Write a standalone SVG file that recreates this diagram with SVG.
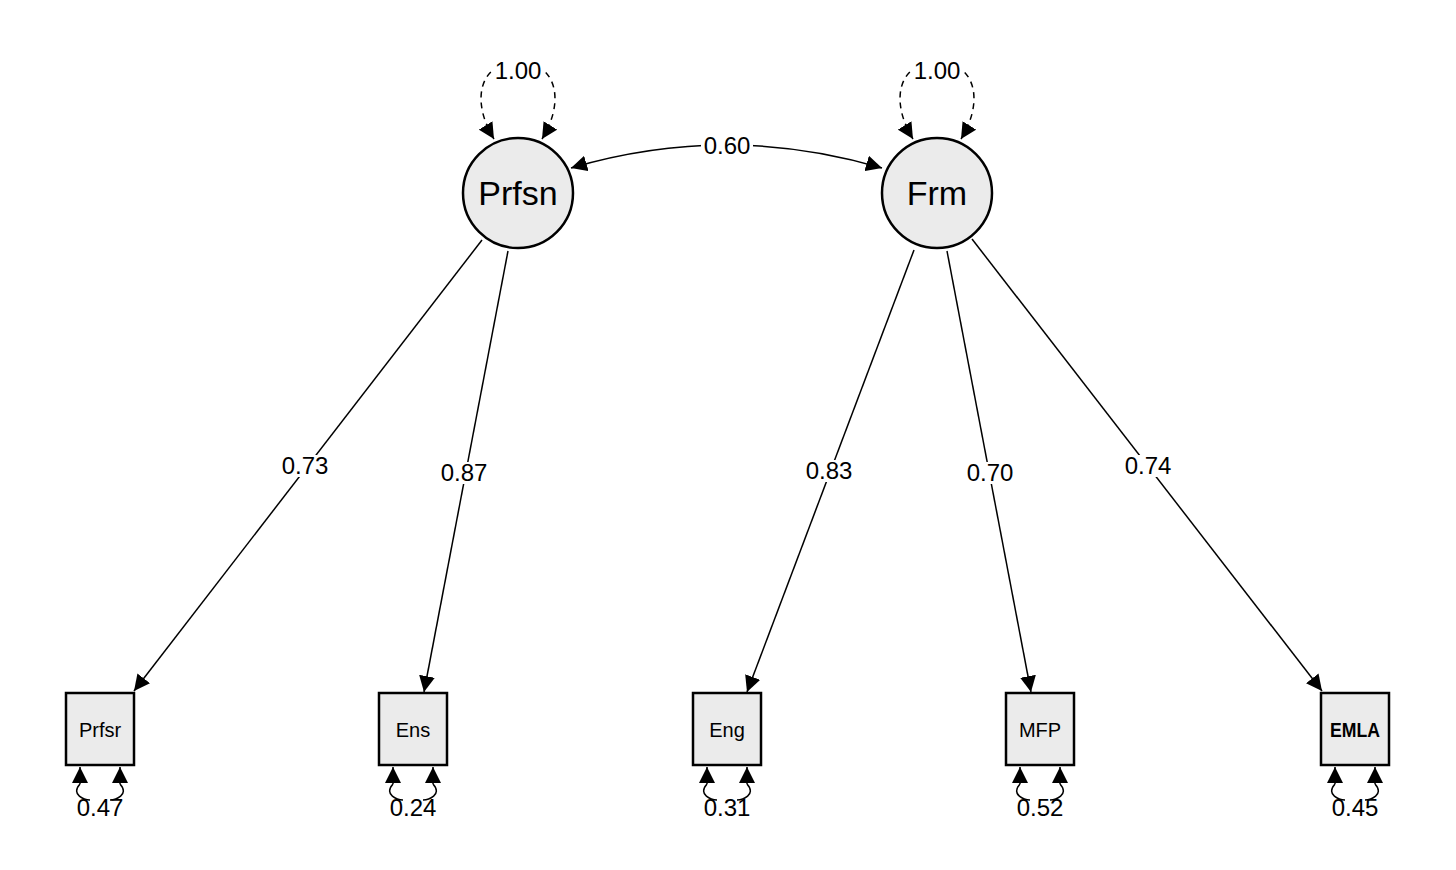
<svg xmlns="http://www.w3.org/2000/svg" width="1456" height="870" viewBox="0 0 1456 870">
<defs>
<marker id="ahb" viewBox="0 0 10 10" refX="10" refY="5" markerWidth="16" markerHeight="16" markerUnits="userSpaceOnUse" orient="auto-start-reverse"><path d="M0,0 L10,5 L0,10 z" fill="#000"/></marker>
<style>
.lat{fill:#ebebeb;stroke:#000;stroke-width:2.5}
.man{fill:#ebebeb;stroke:#000;stroke-width:2.5}
.e{fill:none;stroke:#000;stroke-width:1.5}
.d{stroke-dasharray:6,5}
text{font-family:"Liberation Sans",Arial,sans-serif;fill:#000;text-anchor:middle}
.lb{font-size:24px}
.lt{font-size:34px}
.mt{font-size:20px}
.bg{fill:#fff}
</style>
</defs>
<rect width="1456" height="870" fill="#fff"/>
<g id="connectors">
<path class="e d" d="M494,139 C470,100 480,62 518,62 C556,62 566,100 542,139" marker-start="url(#ahb)" marker-end="url(#ahb)"/>
<path class="e d" d="M913,139 C889,100 899,62 937,62 C975,62 985,100 961,139" marker-start="url(#ahb)" marker-end="url(#ahb)"/>
<path class="e" d="M571,168 Q727,122 882,168" marker-start="url(#ahb)" marker-end="url(#ahb)"/>
<line class="e" x1="482" y1="240" x2="134" y2="691" marker-end="url(#ahb)"/>
<line class="e" x1="508" y1="251" x2="424" y2="692" marker-end="url(#ahb)"/>
<line class="e" x1="914" y1="250" x2="747" y2="692" marker-end="url(#ahb)"/>
<line class="e" x1="947" y1="251" x2="1031" y2="692" marker-end="url(#ahb)"/>
<line class="e" x1="972" y1="239" x2="1322" y2="691" marker-end="url(#ahb)"/>
<g id="resid">
<path class="e" d="M80,784 C70,795 85,800 90,800 M110,800 C115,800 130,795 120,784"/>
<path class="e" d="M80,784 L80,767" marker-end="url(#ahb)"/><path class="e" d="M120,784 L120,767" marker-end="url(#ahb)"/>
<path class="e" d="M393,784 C383,795 398,800 403,800 M423,800 C428,800 443,795 433,784"/>
<path class="e" d="M393,784 L393,767" marker-end="url(#ahb)"/><path class="e" d="M433,784 L433,767" marker-end="url(#ahb)"/>
<path class="e" d="M707,784 C697,795 712,800 717,800 M737,800 C742,800 757,795 747,784"/>
<path class="e" d="M707,784 L707,767" marker-end="url(#ahb)"/><path class="e" d="M747,784 L747,767" marker-end="url(#ahb)"/>
<path class="e" d="M1020,784 C1010,795 1025,800 1030,800 M1050,800 C1055,800 1070,795 1060,784"/>
<path class="e" d="M1020,784 L1020,767" marker-end="url(#ahb)"/><path class="e" d="M1060,784 L1060,767" marker-end="url(#ahb)"/>
<path class="e" d="M1335,784 C1325,795 1340,800 1345,800 M1365,800 C1370,800 1385,795 1375,784"/>
<path class="e" d="M1335,784 L1335,767" marker-end="url(#ahb)"/><path class="e" d="M1375,784 L1375,767" marker-end="url(#ahb)"/>
</g>
<g id="labels">
<rect class="bg" x="493" y="60" width="50" height="22"/><text class="lb" x="518" y="79">1.00</text>
<rect class="bg" x="912" y="60" width="50" height="22"/><text class="lb" x="937" y="79">1.00</text>
<rect class="bg" x="701" y="135" width="52" height="22"/><text class="lb" x="727" y="154">0.60</text>
<rect class="bg" x="279" y="455" width="52" height="22"/><text class="lb" x="305" y="474">0.73</text>
<rect class="bg" x="438" y="462" width="52" height="22"/><text class="lb" x="464" y="481">0.87</text>
<rect class="bg" x="803" y="460" width="52" height="22"/><text class="lb" x="829" y="479">0.83</text>
<rect class="bg" x="964" y="462" width="52" height="22"/><text class="lb" x="990" y="481">0.70</text>
<rect class="bg" x="1122" y="455" width="52" height="22"/><text class="lb" x="1148" y="474">0.74</text>
<text class="lb" x="100" y="816">0.47</text>
<text class="lb" x="413" y="816">0.24</text>
<text class="lb" x="727" y="816">0.31</text>
<text class="lb" x="1040" y="816">0.52</text>
<text class="lb" x="1355" y="816">0.45</text>
</g>
</g>
<g id="Prfsn"><circle class="lat" cx="518" cy="193" r="55"/><text class="lt" x="518" y="205">Prfsn</text></g>
<g id="Frm"><circle class="lat" cx="937" cy="193" r="55"/><text class="lt" x="937" y="205">Frm</text></g>
<g id="Prfsr"><rect class="man" x="66" y="693" width="68" height="72"/><text class="mt" x="100" y="737">Prfsr</text></g>
<g id="Ens"><rect class="man" x="379" y="693" width="68" height="72"/><text class="mt" x="413" y="737">Ens</text></g>
<g id="Eng"><rect class="man" x="693" y="693" width="68" height="72"/><text class="mt" x="727" y="737">Eng</text></g>
<g id="MFP"><rect class="man" x="1006" y="693" width="68" height="72"/><text class="mt" x="1040" y="737">MFP</text></g>
<g id="EMLA"><rect class="man" x="1321" y="693" width="68" height="72"/><text class="mt" x="1355" y="737" font-weight="bold" textLength="50" lengthAdjust="spacingAndGlyphs">EMLA</text></g>
</svg>
